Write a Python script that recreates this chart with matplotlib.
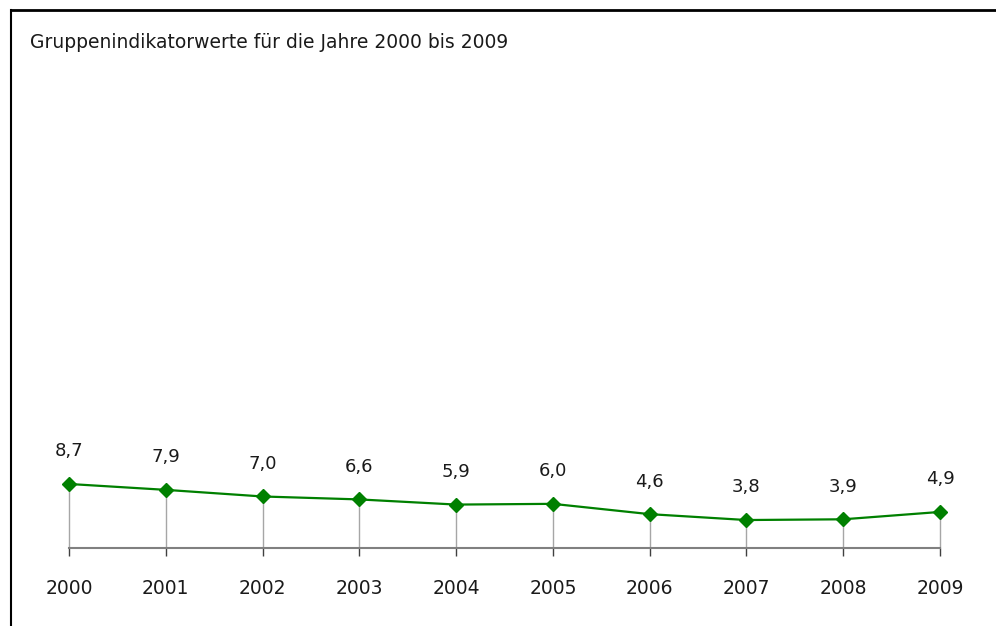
import matplotlib.pyplot as plt
from matplotlib.lines import Line2D

# Daten
years = [2000, 2001, 2002, 2003, 2004, 2005, 2006, 2007, 2008, 2009]
values = [8.7, 7.9, 7.0, 6.6, 5.9, 6.0, 4.6, 3.8, 3.9, 4.9]
title = 'Gruppenindikatorwerte für die Jahre 2000 bis 2009'

W, H = 996, 626
fig = plt.figure(figsize=(W / 100, H / 100), dpi=100)

# Achse: x 69..940 px, y=0 bei 548 px, 7.36 px pro Einheit
ymax = 60
left, right = 69 / W, 940 / W
bottom = (H - 548) / H
height = ymax * 7.36 / H
ax = fig.add_axes([left, bottom, right - left, height])

x = list(range(len(years)))
ax.vlines(x, 0, values, color='#a6a6a6', linewidth=1, clip_on=False)
ax.plot(x, values, color='#008000', linewidth=1.6, marker='D', markersize=7.5,
        zorder=3, clip_on=False)

for xi, v in zip(x, values):
    ax.annotate(f'{v:.1f}'.replace('.', ','), xy=(xi, v), xytext=(0, 17),
                textcoords='offset points', ha='center', va='bottom',
                fontsize=13, color='#1a1a1a')

ax.set_xlim(0, len(years) - 1)
ax.set_ylim(0, ymax)
ax.set_xticks(x)
ax.set_xticklabels([str(y) for y in years], fontsize=13.5, color='#1a1a1a')
ax.tick_params(axis='x', direction='out', length=6, width=1, color='#404040', pad=16)
ax.set_yticks([])
for s in ['top', 'right', 'left']:
    ax.spines[s].set_visible(False)
ax.spines['bottom'].set_color('#808080')
ax.spines['bottom'].set_linewidth(1.5)
ax.patch.set_visible(False)

fig.text(30 / W, 1 - 42 / H, title, fontsize=13.5, va='center', ha='left', color='#1a1a1a')

# Rahmen oben und links
fig.add_artist(Line2D([11 / W, 1], [1 - 10 / H, 1 - 10 / H], color='black', linewidth=2,
                      transform=fig.transFigure))
fig.add_artist(Line2D([11 / W, 11 / W], [0, 1 - 10 / H], color='black', linewidth=1.5,
                      transform=fig.transFigure))

fig.savefig('out.png', dpi=100)
